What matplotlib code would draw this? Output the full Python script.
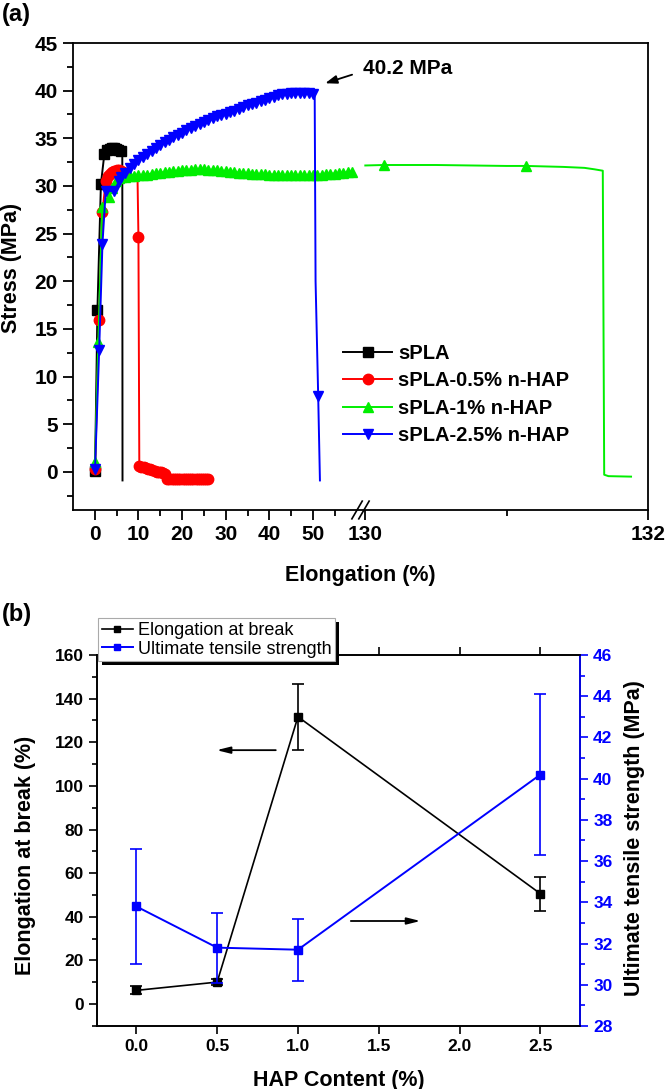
import numpy as np
import matplotlib
matplotlib.use('Agg')
import matplotlib.pyplot as plt
from matplotlib.lines import Line2D
from matplotlib.patches import Rectangle
from matplotlib.transforms import IdentityTransform

plt.rcParams['font.family'] = ['Liberation Sans', 'DejaVu Sans']
plt.rcParams['font.weight'] = 'bold'
plt.rcParams['axes.labelweight'] = 'bold'

# ---------------- Panel (a) data ----------------
spla_x = [0.05, 0.6, 1.4, 2.2, 2.9, 3.4, 3.9, 4.4, 4.9, 5.4, 5.9, 6.3, 6.35]
spla_y = [0.1, 17.0, 30.2, 33.4, 33.8, 33.9, 34.0, 34.0, 33.9, 33.8, 33.7, 33.5, -0.9]

red_x = [0.05, 1.0, 1.75, 2.5, 3.0, 3.5, 4.0, 4.5, 5.0, 5.5, 6.0, 6.5, 7.0, 9.8, 10.0,
         10.2, 10.7, 11.2, 11.7, 12.2, 12.7, 13.2, 13.7, 14.2, 14.7, 15.2, 15.7, 16.2,
         16.6, 17.1, 17.6, 18.1, 18.6, 19.1, 19.6, 20.1, 20.6, 21.1, 21.6, 22.1, 22.6,
         23.1, 23.6, 24.1, 24.6, 25.1, 25.6, 25.9]
red_y = [0.3, 15.9, 27.3, 30.5, 31.0, 31.3, 31.5, 31.6, 31.7, 31.7, 31.6, 31.5, 31.3, 30.6, 24.6,
         0.6, 0.55, 0.5, 0.45, 0.35, 0.25, 0.15, 0.05, 0.0, 0.0, -0.05, -0.1, -0.2,
         -0.75, -0.75, -0.75, -0.75, -0.75, -0.75, -0.75, -0.75, -0.75, -0.75, -0.75, -0.75, -0.75,
         -0.75, -0.75, -0.75, -0.75, -0.75, -0.75, -0.75]

green_x = [0.05, 0.8, 1.7, 3.3, 4.0, 4.8, 5.5,
           6, 7, 8, 9, 10, 11, 12, 13, 14, 15, 16, 17, 18, 19, 20, 21, 22, 23, 24, 25,
           26, 27, 28, 29, 30, 31, 32, 33, 34, 35, 36, 37, 38, 39, 40, 41, 42, 43, 44,
           45, 46, 47, 48, 49, 50, 51, 52, 53, 54, 55, 56, 57, 58, 59]
green_y = [1.0, 13.6, 27.8, 28.8, 29.8, 30.5, 30.8,
           30.9, 30.95, 31.0, 31.05, 31.1, 31.15, 31.2, 31.3, 31.35, 31.4, 31.45, 31.5,
           31.55, 31.6, 31.65, 31.7, 31.7, 31.75, 31.75, 31.75, 31.7, 31.7, 31.65, 31.6,
           31.55, 31.5, 31.45, 31.4, 31.4, 31.35, 31.3, 31.3, 31.25, 31.25, 31.2, 31.2,
           31.2, 31.15, 31.15, 31.15, 31.15, 31.15, 31.15, 31.15, 31.2, 31.2, 31.2,
           31.25, 31.3, 31.3, 31.35, 31.4, 31.45, 31.5]
green_x2 = [130.0, 130.13, 130.5, 131.0, 131.14, 131.4, 131.55, 131.62, 131.68, 131.69, 131.72, 131.88]
green_y2 = [32.15, 32.2, 32.2, 32.1, 32.1, 32.0, 31.9, 31.75, 31.6, -0.3, -0.45, -0.5]
green_marks2 = [1, 4]

blue_x = [0.05, 1.0, 1.75, 2.5, 4.4, 5.6,
          6, 7, 8, 9, 10, 11, 12, 13, 14, 15, 16, 17, 18, 19, 20, 21, 22, 23, 24, 25,
          26, 27, 28, 29, 30, 31, 32, 33, 34, 35, 36, 37, 38, 39, 40, 41, 42, 43, 44,
          45, 46, 47, 48, 49, 50, 50.4, 50.6, 51.2, 51.6]
blue_y = [0.3, 12.8, 23.9, 29.5, 29.45, 30.5,
          30.9, 31.4, 31.9, 32.3, 32.7, 33.05, 33.4, 33.7, 34.0, 34.3, 34.6, 34.85, 35.1,
          35.35, 35.6, 35.85, 36.1, 36.3, 36.5, 36.7, 36.9, 37.1, 37.3, 37.45, 37.6,
          37.75, 37.9, 38.1, 38.3, 38.45, 38.6, 38.75, 38.9, 39.05, 39.2, 39.35, 39.5,
          39.6, 39.7, 39.75, 39.8, 39.8, 39.8, 39.75, 39.6, 39.4, 20.0, 8.0, -0.9]

series_labels = ['sPLA', 'sPLA-0.5% n-HAP', 'sPLA-1% n-HAP', 'sPLA-2.5% n-HAP']
series_colors = ['#000000', '#ff0000', '#00ee00', '#0000ff']
series_markers = ['s', 'o', '^', 'v']

xticks_a = [0, 10, 20, 30, 40, 50, 130, 132]
xminor_a = [5, 15, 25, 35, 45, 55, 131]

# ---------------- Panel (b) data ----------------
hap = [0.0, 0.5, 1.0, 2.5]
elong = [6.3, 10.1, 131.7, 50.6]
elong_err = [1.8, 1.5, 15.0, 7.8]
uts = [33.8, 31.8, 31.7, 40.2]
uts_err = [2.8, 1.7, 1.5, 3.9]
legend_b = ['Elongation at break', 'Ultimate tensile strength']


def fwd(x):
    x = np.asarray(x, float)
    return np.where(x <= 61, x,
                    np.where(x >= 130, 62 + (x - 130) * 32.4, 61 + (x - 61) / 69.0))


def inv(y):
    y = np.asarray(y, float)
    return np.where(y <= 61, y,
                    np.where(y >= 62, 130 + (y - 62) / 32.4, 61 + (y - 61) * 69.0))


fig = plt.figure(figsize=(6.66, 10.89), dpi=100)

# ================= Panel (a) =================
ax = fig.add_axes([0.1096, 0.5317, 0.8634, 0.4288])
ax.set_xscale('function', functions=(fwd, inv))

lw = 1.4
ms = 7.5
ax.plot(spla_x, spla_y, color=series_colors[0], lw=lw, marker='s', ms=ms,
        markevery=list(range(11)))
ax.plot(red_x, red_y, color=series_colors[1], lw=lw, marker='o', ms=ms,
        markevery=[i for i in range(len(red_x)) if i != 13])
ax.plot(green_x, green_y, color=series_colors[2], lw=lw, marker='^', ms=ms)
ax.plot(green_x2, green_y2, color=series_colors[2], lw=lw, marker='^', ms=ms,
        markevery=green_marks2)
blue_marks = [i for i in range(len(blue_x)) if blue_x[i] <= 50.0 or blue_x[i] == 51.2]
ax.plot(blue_x, blue_y, color=series_colors[3], lw=lw, marker='v', ms=ms,
        markevery=blue_marks)

ax.set_xlim(-5, 132)
ax.set_ylim(-4, 45)
ax.set_xticks(xticks_a)
ax.set_xticks(xminor_a, minor=True)
ax.set_xticklabels([str(v) for v in xticks_a])
ax.set_yticks(np.arange(0, 46, 5))
ax.set_yticks(np.arange(-2.5, 45, 5), minor=True)
ax.tick_params(axis='both', which='major', direction='out', length=7, width=1.3,
               labelsize=15, pad=4)
ax.tick_params(axis='both', which='minor', direction='out', length=4, width=1.3)
for s in ax.spines.values():
    s.set_linewidth(1.3)

ax.set_ylabel('Stress (MPa)', fontsize=15.5, fontweight='bold')
ax.yaxis.set_label_coords(-0.0887, 0.518)
ax.set_xlabel('Elongation (%)', fontsize=15.5, fontweight='bold')
ax.xaxis.set_label_coords(0.5, -0.118)

# axis break marks
for fx in (0.494, 0.506):
    ax.plot([fx - 0.009, fx + 0.009], [-0.019, 0.019], transform=ax.transAxes,
            color='black', lw=1.2, clip_on=False)

# annotation
ax.annotate('', xy=(0.434, 0.912), xycoords='axes fraction',
            xytext=(0.49, 0.934), textcoords='axes fraction',
            arrowprops=dict(arrowstyle='-|>,head_length=0.7,head_width=0.25',
                            color='black', lw=1.3))
ax.text(0.504, 0.946, '40.2 MPa', transform=ax.transAxes, fontsize=15,
        fontweight='bold', va='center', ha='left')

handles = [Line2D([], [], color=c, marker=m, lw=lw, ms=ms)
           for c, m in zip(series_colors, series_markers)]
ax.legend(handles, series_labels, loc='upper left',
          bbox_to_anchor=((343 - 73) / 575, 1 - (350 - 43) / 467 + 0.013),
          frameon=False, handlelength=2.45, handletextpad=0.3,
          labelspacing=0.42, borderpad=0.0, borderaxespad=0.0,
          prop={'weight': 'bold', 'size': 14.5})

fig.text(0.003, 1 - 14 / 1089, '(a)', fontsize=17, fontweight='bold', va='center', ha='left')

# ================= Panel (b) =================
axb = fig.add_axes([0.1452, 0.0579, 0.7257, 0.3406])
ax2 = axb.twinx()

axb.errorbar(hap, elong, yerr=elong_err, color='black', lw=1.2, marker='s', ms=5.5,
             capsize=4, elinewidth=1.2, capthick=1.2)
ax2.errorbar(hap, uts, yerr=uts_err, color='#0000ff', lw=1.4, marker='s', ms=5.5,
             capsize=4, elinewidth=1.2, capthick=1.2)

axb.set_xlim(-0.245, 2.745)
axb.set_ylim(-10, 160)
ax2.set_ylim(28, 46)
axb.set_xticks([0.0, 0.5, 1.0, 1.5, 2.0, 2.5])
axb.set_xticklabels(['0.0', '0.5', '1.0', '1.5', '2.0', '2.5'])
axb.set_yticks(np.arange(0, 161, 20))
axb.set_yticks(np.arange(-10, 160, 20), minor=True)
ax2.set_yticks(np.arange(28, 47, 2))
ax2.set_yticks(np.arange(29, 46, 2), minor=True)

axb.tick_params(axis='both', which='major', direction='out', length=6, width=1.2,
                labelsize=12.5, top=True)
axb.tick_params(axis='y', which='minor', direction='out', length=3.5, width=1.2)
ax2.tick_params(axis='y', which='major', direction='out', length=6, width=1.2,
                labelsize=12.5, colors='#0000ff')
ax2.tick_params(axis='y', which='minor', direction='out', length=3.5, width=1.2,
                colors='#0000ff')
for s in axb.spines.values():
    s.set_linewidth(1.2)
for s in ax2.spines.values():
    s.set_linewidth(1.2)
ax2.spines['right'].set_color('#0000ff')
for lab in ax2.get_yticklabels():
    lab.set_fontweight('bold')

axb.set_xlabel('HAP Content (%)', fontsize=15.5, fontweight='bold')
axb.xaxis.set_label_coords(0.5, -0.119)
axb.set_ylabel('Elongation at break (%)', fontsize=15.5, fontweight='bold')
axb.yaxis.set_label_coords(-0.1256, 0.46)
ax2.set_ylabel('Ultimate tensile strength (MPa)', fontsize=15.5, fontweight='bold')
ax2.yaxis.set_label_coords(1.091, 0.507)

# arrows
axb.annotate('', xy=(0.48, 116.4), xytext=(0.88, 116.4),
             arrowprops=dict(arrowstyle='-|>,head_length=0.8,head_width=0.2',
                             color='black', lw=1.3))
axb.annotate('', xy=(1.775, 38.1), xytext=(1.31, 38.1),
             arrowprops=dict(arrowstyle='-|>,head_length=0.8,head_width=0.2',
                             color='black', lw=1.3))

hb = [Line2D([], [], color='black', lw=1.2, marker='s', ms=4),
      Line2D([], [], color='#0000ff', lw=1.4, marker='s', ms=4)]
leg = ax2.legend(hb, legend_b, loc='upper left',
                 bbox_to_anchor=(98.3 / 666, 1 - 618.3 / 1089),
                 bbox_transform=fig.transFigure, borderaxespad=0.0,
                 fancybox=False, framealpha=1, edgecolor='#aaaaaa',
                 prop={'weight': 'normal', 'size': 13},
                 handlelength=1.7, handletextpad=0.3, labelspacing=0.1,
                 borderpad=0.2)
leg.get_frame().set_linewidth(0.8)
leg.set_zorder(10)

fig.text(0.003, 1 - 615 / 1089, '(b)', fontsize=17, fontweight='bold', va='center', ha='left')

# legend shadow (black, offset right/down)
fig.canvas.draw()
bb = leg.get_window_extent(fig.canvas.get_renderer())
shadow = Rectangle((bb.x0 + 4, bb.y0 - 4), bb.width, bb.height, transform=IdentityTransform(),
                   facecolor='black', edgecolor='none', zorder=9, clip_on=False)
ax2.add_artist(shadow)

fig.savefig('out.png', dpi=100)
